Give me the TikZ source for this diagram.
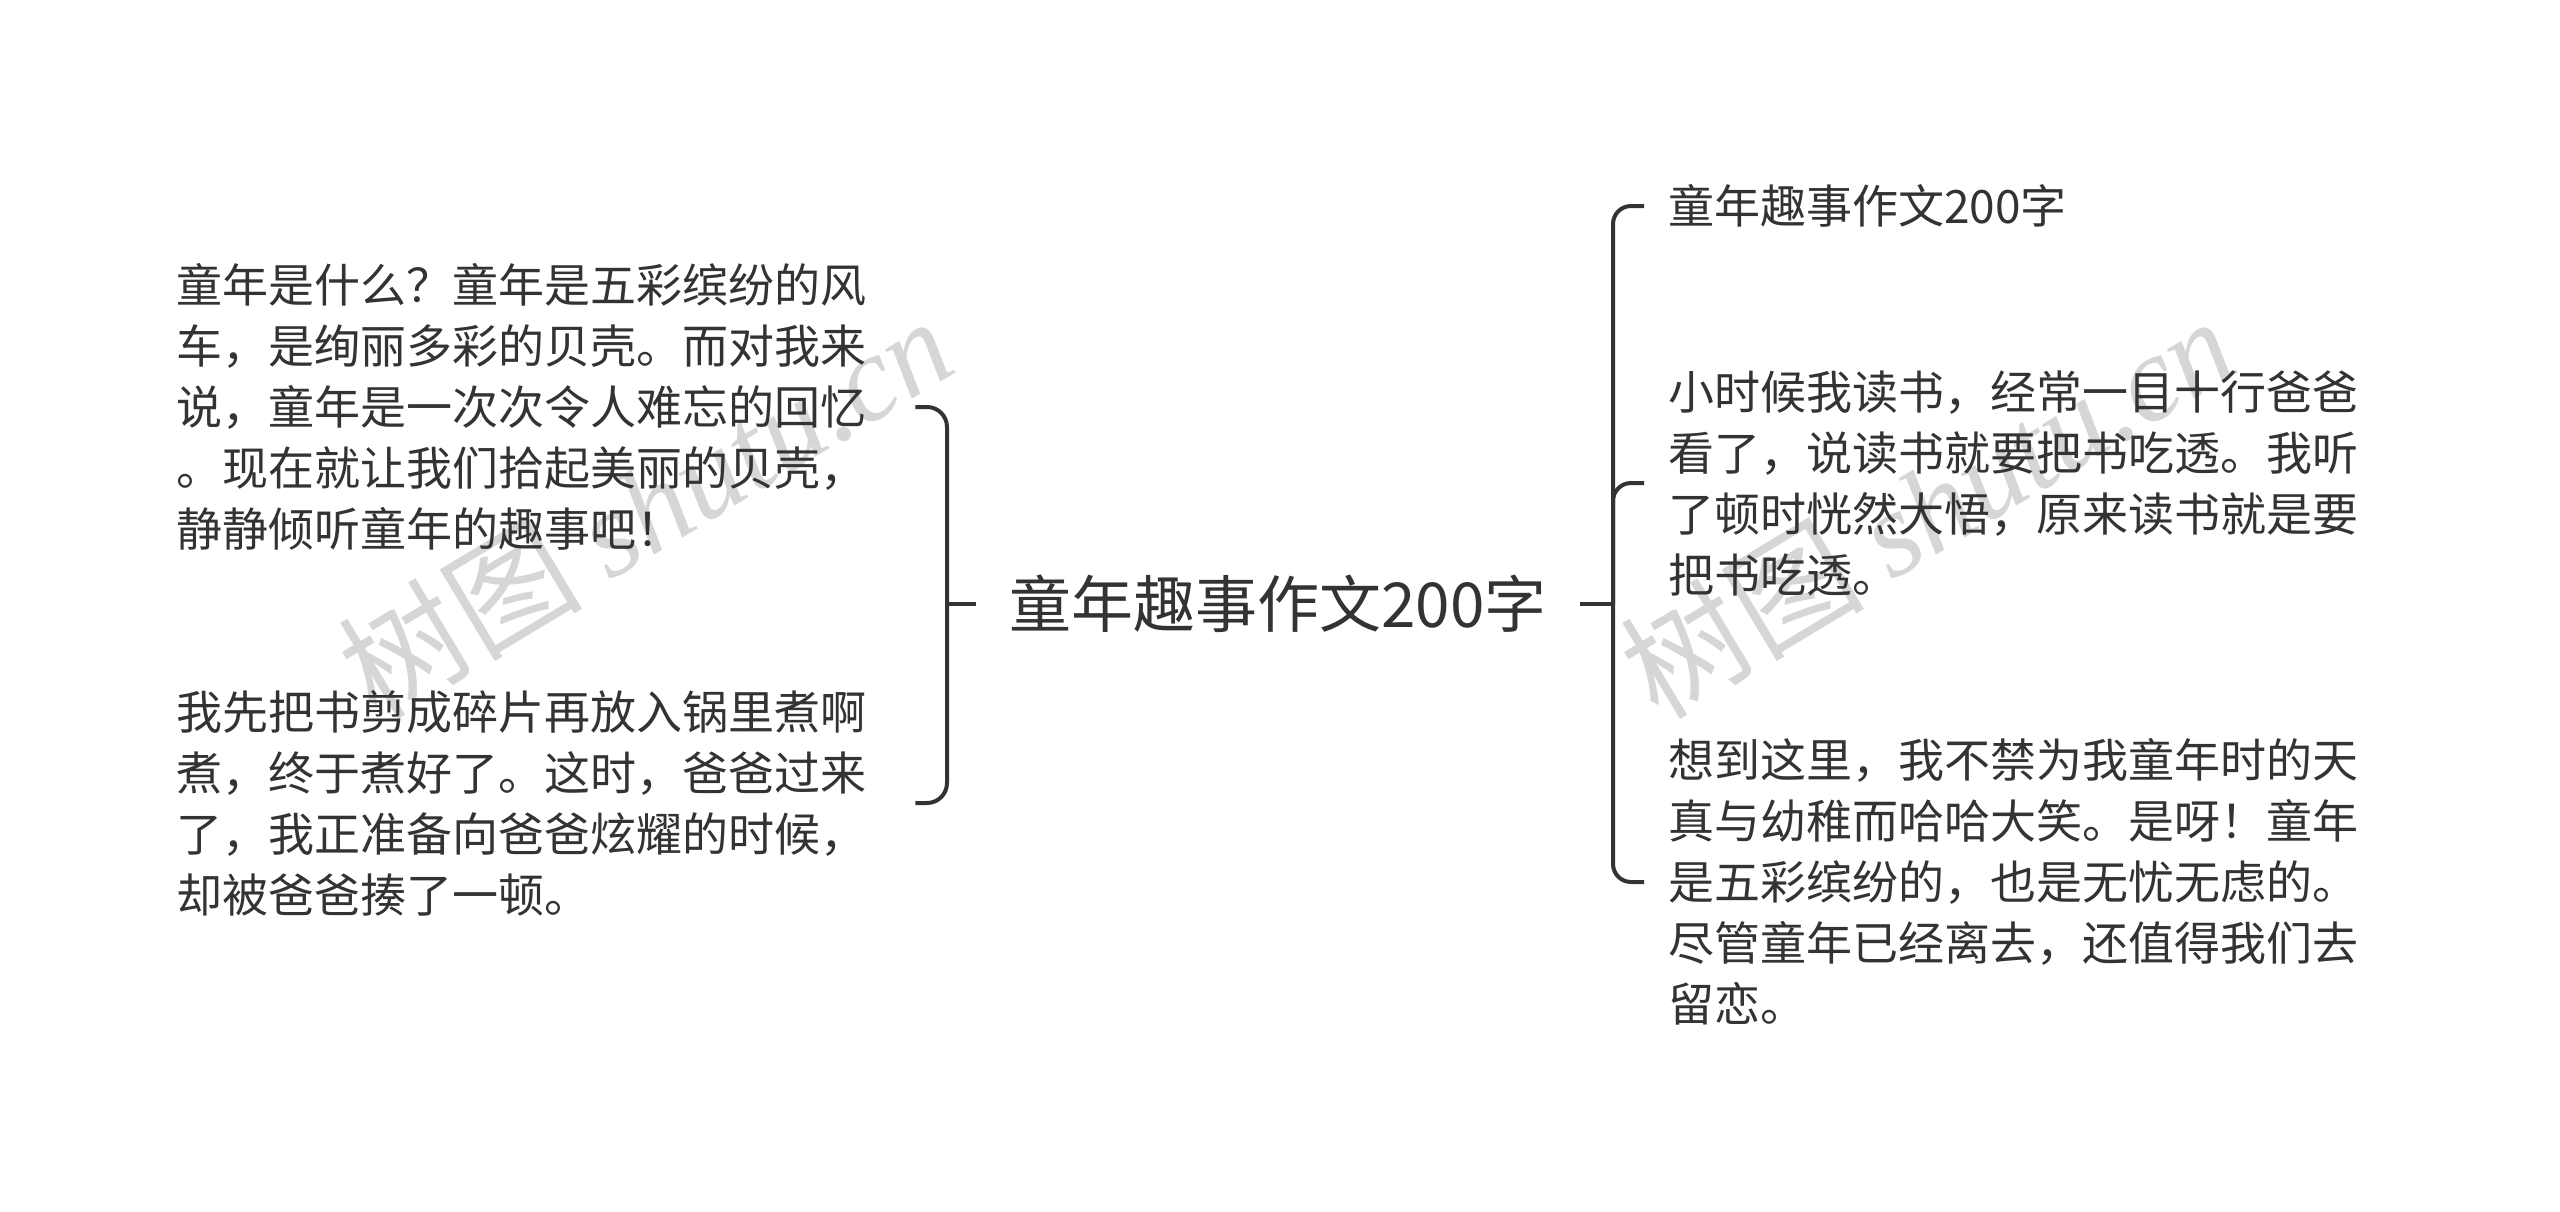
\documentclass[tikz,border=0pt]{standalone}
\usepackage{fontspec}
\setmainfont{Noto Sans CJK SC}
\newfontfamily\wmserif{Liberation Serif}
\definecolor{ink}{HTML}{333333}
\definecolor{wmgray}{HTML}{D6D6D6}
\begin{document}
\begin{tikzpicture}[x=1pt,y=-1pt,
  conn/.style={draw=ink, line width=4pt},
  leftleaf/.style={anchor=west, inner sep=0pt, align=left, text width=739pt,
    font=\fontsize{46}{61}\selectfont, text=ink},
  rightleaf/.style={anchor=west, inner xsep=24pt, inner ysep=0pt, align=left, text width=760pt,
    font=\fontsize{46}{61}\selectfont, text=ink},
  rootnode/.style={inner xsep=33pt, inner ysep=0pt, font=\fontsize{62}{72}\selectfont, text=ink},
  wmark/.style={text=wmgray, font=\fontsize{122}{130}\selectfont, inner sep=0pt}
]
\useasboundingbox (0,0) rectangle (2560,1211);
\fill[white] (0,0) rectangle (2560,1211);

% watermarks
\node[wmark, rotate=31] (wm1) at (645,506) {树图 {\wmserif\itshape shutu.cn}};
\node[wmark, rotate=31] (wm2) at (1927,506) {树图 {\wmserif\itshape shutu.cn}};

% root
\node[rootnode] (root) at (1278,604) {童年趣事作文200字};

% left children
\node[leftleaf] (l1) at (176,407) {童年是什么？童年是五彩缤纷的风\\车，是绚丽多彩的贝壳。而对我来\\说，童年是一次次令人难忘的回忆\\。现在就让我们拾起美丽的贝壳，\\静静倾听童年的趣事吧！};
\node[leftleaf] (l2) at (176,803) {我先把书剪成碎片再放入锅里煮啊\\煮，终于煮好了。这时，爸爸过来\\了，我正准备向爸爸炫耀的时候，\\却被爸爸揍了一顿。};

% right children
\node[rightleaf] (r1) at (1644,206) {童年趣事作文200字};
\node[rightleaf] (r2) at (1644,483) {小时候我读书，经常一目十行爸爸\\看了，说读书就要把书吃透。我听\\了顿时恍然大悟，原来读书就是要\\把书吃透。};
\node[rightleaf] (r3) at (1644,882) {想到这里，我不禁为我童年时的天\\真与幼稚而哈哈大笑。是呀！童年\\是五彩缤纷的，也是无忧无虑的。\\尽管童年已经离去，还值得我们去\\留恋。};

% junctions
\coordinate (jl) at (947,604);
\coordinate (jr) at (1613,604);

% connectors
\draw[conn] (root.west) -- (jl);
\draw[conn, rounded corners=20pt] (jl) |- (l1.east);
\draw[conn, rounded corners=20pt] (jl) |- (l2.east);
\draw[conn] (root.east) -- (jr);
\draw[conn, rounded corners=18pt] (jr) |- (r1.west);
\draw[conn, rounded corners=18pt] (jr) |- (r2.west);
\draw[conn, rounded corners=18pt] (jr) |- (r3.west);
\end{tikzpicture}
\end{document}
